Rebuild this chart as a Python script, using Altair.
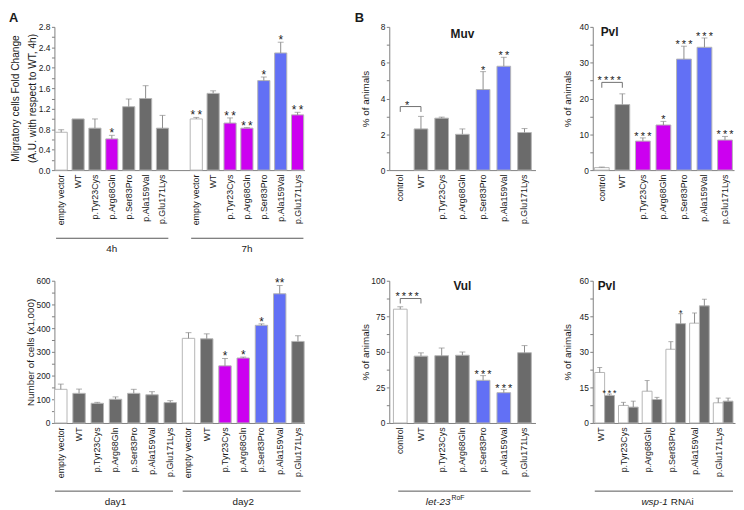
import altair as alt
import pandas as pd

FONT = "Liberation Sans"
INK = "#1a1a1a"
GRAY = "#6b6b6b"
MAGENTA = "#cc00f0"
BLUE = "#6270f5"
WHITE = "#ffffff"
EDGE = "#b5b5b5"
ERRC = "#8c8c8c"
AXISC = "#7f7f7f"
BRC = "#707070"
THIN = "\u2009"

# ---------------- data ----------------
variants = ["empty vector", "WT", "p.Tyr23Cys", "p.Arg68Gln", "p.Ser83Pro", "p.Ala159Val", "p.Glu171Lys"]
worm_variants = ["control", "WT", "p.Tyr23Cys", "p.Arg68Gln", "p.Ser83Pro", "p.Ala159Val", "p.Glu171Lys"]
rnai_groups = ["WT", "p.Tyr23Cys", "p.Arg68Gln", "p.Ser83Pro", "p.Ala159Val", "p.Glu171Lys"]

# A, top: migratory cells fold change
mig_groups = ["4h", "7h"]
mig_4h = [0.74, 1.00, 0.82, 0.61, 1.24, 1.40, 0.82]
mig_4h_err = [0.05, 0.00, 0.18, 0.07, 0.15, 0.25, 0.25]
mig_4h_color = ["w", "g", "g", "m", "g", "g", "g"]
mig_4h_sig = ["", "", "", "*", "", "", ""]
mig_7h = [1.00, 1.50, 0.92, 0.82, 1.75, 2.29, 1.08]
mig_7h_err = [0.03, 0.05, 0.10, 0.01, 0.07, 0.21, 0.05]
mig_7h_color = ["w", "g", "m", "m", "b", "b", "m"]
mig_7h_sig = ["**", "", "**", "**", "*", "*", "**"]
mig_ticks = [0.0, 0.2, 0.4, 0.6, 0.8, 1.0, 1.2, 1.4, 1.6, 1.8, 2.0, 2.2, 2.4, 2.6, 2.8]

# A, bottom: number of cells
cell_groups = ["day1", "day2"]
cells_day1 = [142, 125, 83, 100, 125, 119, 86]
cells_day1_err = [22, 18, 4, 10, 17, 13, 8]
cells_day1_color = ["w", "g", "g", "g", "g", "g", "g"]
cells_day1_sig = ["", "", "", "", "", "", ""]
cells_day2 = [357, 355, 241, 274, 412, 545, 344]
cells_day2_err = [24, 21, 31, 4, 6, 35, 24]
cells_day2_color = ["w", "g", "m", "m", "b", "b", "g"]
cells_day2_sig = ["", "", "*", "*", "*", "**", ""]
cells_ticks = [0, 50, 100, 150, 200, 250, 300, 350, 400, 450, 500, 550, 600]

# B: Muv
muv = [0.0, 2.3, 2.9, 2.0, 4.5, 5.8, 2.1]
muv_err = [0.0, 0.7, 0.06, 0.3, 1.0, 0.5, 0.22]
muv_color = ["w", "g", "g", "g", "b", "b", "g"]
muv_sig = ["", "", "", "", "*", "**", ""]
muv_bracket = [3.55, 3.25]
muv_bracket_sig = "*"
muv_ticks = [0, 1, 2, 3, 4, 5, 6, 7, 8]

# B: Pvl (top)
pvl = [0.7, 18.3, 8.1, 12.6, 31.0, 34.3, 8.4]
pvl_err = [0.15, 3.0, 0.9, 1.0, 3.6, 2.6, 1.0]
pvl_color = ["w", "g", "m", "m", "b", "b", "m"]
pvl_sig = ["", "", "***", "*", "***", "***", "***"]
pvl_bracket = [24.5, 23.0]
pvl_bracket_sig = "****"
pvl_ticks = [0, 5, 10, 15, 20, 25, 30, 35, 40]

# B: Vul
vul = [80.0, 47.0, 47.3, 47.6, 30.0, 21.3, 49.4]
vul_err = [1.7, 2.3, 5.4, 2.3, 3.3, 2.2, 5.0]
vul_color = ["w", "g", "g", "g", "b", "b", "g"]
vul_sig = ["", "", "", "", "***", "***", ""]
vul_bracket = [87.5, 84.0]
vul_bracket_sig = "****"
vul_ticks = [0, 12.5, 25, 37.5, 50, 62.5, 75, 87.5, 100]

# B: Pvl (wsp-1 RNAi)
rnai_series = ["ctrl", "rnai"]
pvl2_ctrl = [21.3, 7.4, 13.4, 31.1, 42.1, 8.5]
pvl2_ctrl_err = [2.1, 1.3, 4.5, 3.2, 4.3, 2.0]
pvl2_ctrl_sig = ["", "", "", "", "", ""]
pvl2_rnai = [11.6, 6.7, 9.9, 41.9, 49.4, 9.2]
pvl2_rnai_err = [0.6, 2.5, 0.9, 4.2, 2.8, 1.3]
pvl2_rnai_sig = ["***", "", "", "*", "", ""]
pvl2_ticks = [0, 7.5, 15, 22.5, 30, 37.5, 45, 52.5, 60]

panel_letters = ["A", "B"]
panel_titles = ["Muv", "Pvl", "Vul", "Pvl"]
mig_title_lines = ["Migratory cells Fold Change", "(A.U. with respect to WT, 4h)"]
y_titles = ["Number of cells (x1,000)", "% of animals"]

COLOR_SCALE = alt.Scale(domain=["w", "g", "m", "b"], range=[WHITE, GRAY, MAGENTA, BLUE])


def spaced(s):
    return THIN.join(list(s)) if s else s


def frame(keys, vals, errs, cols, sigs):
    return pd.DataFrame({
        "key": keys, "value": vals, "err": errs,
        "top": [v + e for v, e in zip(vals, errs)],
        "col": cols, "sig": [spaced(s) for s in sigs],
    })


def y_axis(title, ticks, major, fmt, title_x=-19):
    kw = dict(title=title, values=ticks, format=fmt,
              labelExpr=f"abs(datum.value / {major} - round(datum.value / {major})) < 0.001 ? datum.label : ''",
              tickSize=3, tickColor=AXISC, domainColor=AXISC, labelFontSize=8.5, labelPadding=1.5,
              labelColor=INK, grid=False)
    if title is not None:
        kw.update(titleColor=INK, titleFontSize=10, titleFontWeight="normal", titleX=title_x)
    return alt.Axis(**kw)


def x_axis(expr=None, offset=0):
    kw = dict(title=None, labelAngle=270, labelFontSize=9, labelColor=INK, labelPadding=4,
              ticks=False, domainColor=AXISC, labelOverlap=False)
    if expr:
        kw["labelExpr"] = expr
    if offset:
        kw["labelOffset"] = offset
    return alt.Axis(**kw)


def bar_layers(df, xs, ys, xa, ya, star_size=11):
    bars = alt.Chart(df[df.value > 0]).mark_bar(stroke=EDGE, strokeWidth=1).encode(
        x=alt.X("key:N", scale=xs, axis=xa),
        y=alt.Y("value:Q", scale=ys, axis=ya),
        color=alt.Color("col:N", scale=COLOR_SCALE, legend=None))
    e = df[df.err > 0]
    err = alt.Chart(e).mark_rule(color=ERRC, strokeWidth=1).encode(
        x=alt.X("key:N", scale=xs, axis=xa),
        y=alt.Y("value:Q", scale=ys, axis=ya), y2="top:Q")
    cap = alt.Chart(e).mark_tick(color=ERRC, thickness=1, size=6).encode(
        x=alt.X("key:N", scale=xs, axis=xa),
        y=alt.Y("top:Q", scale=ys, axis=ya))
    s = df[df.sig != ""]
    stars = alt.Chart(s).mark_text(fontSize=star_size, color=INK, baseline="alphabetic", dy=2).encode(
        x=alt.X("key:N", scale=xs, axis=xa),
        y=alt.Y("top:Q", scale=ys, axis=ya), text="sig:N")
    return [bars, err, cap, stars]


def bracket_layers(a, b, level, low, sig, xs, ys, xa, ya, size=11):
    d = pd.DataFrame({"a": [a], "b": [b], "level": [level], "low": [low], "sig": [spaced(sig)]})
    ends = pd.DataFrame({"key": [a, b], "level": [level, level], "low": [low, low]})
    h = alt.Chart(d).mark_rule(color=BRC, strokeWidth=1).encode(
        x=alt.X("a:N", scale=xs, axis=xa), x2="b:N",
        y=alt.Y("level:Q", scale=ys, axis=ya))
    v = alt.Chart(ends).mark_rule(color=BRC, strokeWidth=1).encode(
        x=alt.X("key:N", scale=xs, axis=xa),
        y=alt.Y("level:Q", scale=ys, axis=ya), y2="low:Q")
    t = alt.Chart(d).mark_text(fontSize=size, color=INK, baseline="alphabetic", dy=2).encode(
        x=alt.X("a:N", scale=xs, axis=xa, bandPosition=1),
        y=alt.Y("level:Q", scale=ys, axis=ya), text="sig:N")
    return [h, v, t]


def group_layers(gdf, xs, xa, height, bp_start, bp_end):
    line = alt.Chart(gdf).mark_rule(color="#555555", strokeWidth=1).encode(
        x=alt.X("start:N", scale=xs, axis=xa, bandPosition=bp_start),
        x2=alt.X2("end:N", bandPosition=bp_end),
        y=alt.value(height + 69))
    lab = alt.Chart(gdf).mark_text(fontSize=10, color=INK, baseline="middle").encode(
        x=alt.X("mid:N", scale=xs, axis=xa), y=alt.value(height + 80), text="label:N")
    return [line, lab]


def text_layer(text, x, y, size=12, weight="bold", align="left", baseline="top", style="normal", angle=0):
    return alt.Chart(pd.DataFrame({"t": [text]})).mark_text(
        fontSize=size, fontWeight=weight, align=align, baseline=baseline, fontStyle=style, color=INK,
        angle=angle,
    ).encode(text="t:N", x=alt.value(x), y=alt.value(y))


H1, H2 = 145, 144
KEY_EXPR = "split(datum.label, '|')[1]"

# ---------------- A top ----------------
a1_keys4 = [f"4h|{v}" for v in variants]
a1_keys7 = [f"7h|{v}" for v in variants]
a1_domain = a1_keys4 + ["gap|"] + a1_keys7
a1_df = pd.concat([frame(a1_keys4, mig_4h, mig_4h_err, mig_4h_color, mig_4h_sig),
                   frame(a1_keys7, mig_7h, mig_7h_err, mig_7h_color, mig_7h_sig)])
a1_xs = alt.Scale(domain=a1_domain, paddingInner=0.28, paddingOuter=0.04)
a1_ys = alt.Scale(domain=[0, 2.8], nice=False)
a1_xa = x_axis(KEY_EXPR)
a1_ya = y_axis(None, mig_ticks, 0.4, ".1f")
a1_groups = pd.DataFrame({"start": [a1_keys4[0], a1_keys7[0]], "end": [a1_keys4[-1], a1_keys7[-1]],
                          "mid": [a1_keys4[3], a1_keys7[3]], "label": mig_groups})
a1 = alt.layer(
    *bar_layers(a1_df, a1_xs, a1_ys, a1_xa, a1_ya, star_size=12),
    *group_layers(a1_groups, a1_xs, a1_xa, H1, 0.08, 0.98),
    text_layer(mig_title_lines[0], -39, H1 / 2, size=10.3, weight="normal", align="center",
               baseline="middle", angle=270),
    text_layer(mig_title_lines[1], -22, H1 / 2, size=10.3, weight="normal", align="center",
               baseline="middle", angle=270),
    text_layer(panel_letters[0], -46, -15, size=13),
).properties(width=253, height=H1)

# ---------------- A bottom ----------------
a2_keys1 = [f"day1|{v}" for v in variants]
a2_keys2 = [f"day2|{v}" for v in variants]
a2_domain = a2_keys1 + a2_keys2
a2_df = pd.concat([frame(a2_keys1, cells_day1, cells_day1_err, cells_day1_color, cells_day1_sig),
                   frame(a2_keys2, cells_day2, cells_day2_err, cells_day2_color, cells_day2_sig)])
a2_df["sig"] = a2_df["sig"].str.replace(THIN, "")
a2_xs = alt.Scale(domain=a2_domain, paddingInner=0.32, paddingOuter=0.01)
a2_ys = alt.Scale(domain=[0, 600], nice=False)
a2_xa = x_axis(KEY_EXPR)
a2_ya = y_axis(y_titles[0], cells_ticks, 100, "d", -19)
a2_groups = pd.DataFrame({"start": [a2_keys1[0], a2_keys2[0]], "end": [a2_keys1[-1], a2_keys2[-1]],
                          "mid": [a2_keys1[3], a2_keys2[3]], "label": cell_groups})
a2 = alt.layer(
    *bar_layers(a2_df, a2_xs, a2_ys, a2_xa, a2_ya, star_size=12),
    *group_layers(a2_groups, a2_xs, a2_xa, H2, 0.03, 0.72),
).properties(width=253, height=H2)

# ---------------- B: Muv ----------------
B_PI, B_PO = 0.34, 0.2
muv_df = frame(worm_variants, muv, muv_err, muv_color, muv_sig)
muv_xs = alt.Scale(domain=worm_variants, paddingInner=B_PI, paddingOuter=B_PO)
muv_ys = alt.Scale(domain=[0, 8], nice=False)
muv_xa = x_axis()
muv_ya = y_axis(y_titles[1], muv_ticks, 2, "d", -19)
muv_chart = alt.layer(
    *bar_layers(muv_df, muv_xs, muv_ys, muv_xa, muv_ya),
    *bracket_layers("control", "WT", muv_bracket[0], muv_bracket[1], muv_bracket_sig,
                    muv_xs, muv_ys, muv_xa, muv_ya),
    text_layer(panel_titles[0], 74, 7, size=12, align="center", baseline="middle"),
    text_layer(panel_letters[1], -35, -15, size=13),
).properties(width=148, height=H1)

# ---------------- B: Pvl top ----------------
pvl_df = frame(worm_variants, pvl, pvl_err, pvl_color, pvl_sig)
pvl_xs = alt.Scale(domain=worm_variants, paddingInner=0.28, paddingOuter=0.08)
pvl_ys = alt.Scale(domain=[0, 40], nice=False)
pvl_xa = x_axis()
pvl_ya = y_axis(y_titles[1], pvl_ticks, 10, "d", -21)
pvl_chart = alt.layer(
    *bar_layers(pvl_df, pvl_xs, pvl_ys, pvl_xa, pvl_ya),
    *bracket_layers("control", "WT", pvl_bracket[0], pvl_bracket[1], pvl_bracket_sig,
                    pvl_xs, pvl_ys, pvl_xa, pvl_ya),
    text_layer(panel_titles[1], 8, 5, size=12, baseline="middle"),
).properties(width=143, height=H1)

# ---------------- B: Vul ----------------
vul_df = frame(worm_variants, vul, vul_err, vul_color, vul_sig)
vul_xs = alt.Scale(domain=worm_variants, paddingInner=B_PI, paddingOuter=B_PO)
vul_ys = alt.Scale(domain=[0, 100], nice=False)
vul_xa = x_axis()
vul_ya = y_axis(y_titles[1], vul_ticks, 25, "d", -19)
vul_note = pd.DataFrame({"start": [worm_variants[0]], "end": [worm_variants[-1]],
                         "mid": [worm_variants[2]], "gene": ["let-23"], "allele": ["RoF"]})
vul_line = alt.Chart(vul_note).mark_rule(color="#555555", strokeWidth=1).encode(
    x=alt.X("start:N", scale=vul_xs, axis=vul_xa, bandPosition=0.35),
    x2=alt.X2("end:N", bandPosition=0.95), y=alt.value(H2 + 69))
vul_gene = alt.Chart(vul_note).mark_text(fontSize=10, fontStyle="italic", color=INK, align="right",
                                         baseline="middle", dx=2).encode(
    x=alt.X("mid:N", scale=vul_xs, axis=vul_xa, bandPosition=1), y=alt.value(H2 + 80), text="gene:N")
vul_allele = alt.Chart(vul_note).mark_text(fontSize=7, color=INK, align="left",
                                           baseline="middle", dx=3).encode(
    x=alt.X("mid:N", scale=vul_xs, axis=vul_xa, bandPosition=1), y=alt.value(H2 + 76), text="allele:N")
vul_chart = alt.layer(
    *bar_layers(vul_df, vul_xs, vul_ys, vul_xa, vul_ya),
    *bracket_layers("control", "WT", vul_bracket[0], vul_bracket[1], vul_bracket_sig,
                    vul_xs, vul_ys, vul_xa, vul_ya),
    vul_line, vul_gene, vul_allele,
    text_layer(panel_titles[2], 74, 5, size=12, align="center", baseline="middle"),
).properties(width=148, height=H2)

# ---------------- B: Pvl wsp-1 RNAi ----------------
rows = []
for g, v, e, s in zip(rnai_groups, pvl2_ctrl, pvl2_ctrl_err, pvl2_ctrl_sig):
    rows.append({"group": g, "series": rnai_series[0], "value": v, "err": e, "top": v + e, "col": "w", "sig": spaced(s)})
for g, v, e, s in zip(rnai_groups, pvl2_rnai, pvl2_rnai_err, pvl2_rnai_sig):
    rows.append({"group": g, "series": rnai_series[1], "value": v, "err": e, "top": v + e, "col": "g", "sig": spaced(s)})
p2_df = pd.DataFrame(rows)
p2_xs = alt.Scale(domain=rnai_groups, paddingInner=0.17, paddingOuter=0.085)
p2_os = alt.Scale(domain=rnai_series, paddingInner=0, paddingOuter=0)
p2_ys = alt.Scale(domain=[0, 60], nice=False)
p2_xa = x_axis(offset=-4)
p2_ya = y_axis(y_titles[1], pvl2_ticks, 15, "d", -21)
XO = alt.XOffset("series:N", scale=p2_os)
p2_bars = alt.Chart(p2_df).mark_bar(stroke=EDGE, strokeWidth=1).encode(
    x=alt.X("group:N", scale=p2_xs, axis=p2_xa), xOffset=XO,
    y=alt.Y("value:Q", scale=p2_ys, axis=p2_ya),
    color=alt.Color("col:N", scale=COLOR_SCALE, legend=None))
p2_err = alt.Chart(p2_df).mark_rule(color=ERRC, strokeWidth=1).encode(
    x=alt.X("group:N", scale=p2_xs, axis=p2_xa), xOffset=XO,
    y=alt.Y("value:Q", scale=p2_ys, axis=p2_ya), y2="top:Q")
p2_cap = alt.Chart(p2_df).mark_tick(color=ERRC, thickness=1, size=5).encode(
    x=alt.X("group:N", scale=p2_xs, axis=p2_xa), xOffset=XO,
    y=alt.Y("top:Q", scale=p2_ys, axis=p2_ya))
p2_stars = alt.Chart(p2_df[p2_df.sig != ""]).mark_text(fontSize=9, color=INK, baseline="alphabetic", dy=2).encode(
    x=alt.X("group:N", scale=p2_xs, axis=p2_xa), xOffset=XO,
    y=alt.Y("top:Q", scale=p2_ys, axis=p2_ya), text="sig:N")
p2_note = pd.DataFrame({"start": [rnai_groups[0]], "end": [rnai_groups[-1]],
                        "mid": [rnai_groups[2]], "gene": ["wsp-1"], "method": ["RNAi"]})
p2_line = alt.Chart(p2_note).mark_rule(color="#555555", strokeWidth=1).encode(
    x=alt.X("start:N", scale=p2_xs, axis=p2_xa, bandPosition=0.0),
    x2=alt.X2("end:N", bandPosition=1.0), y=alt.value(H2 + 69))
p2_gene = alt.Chart(p2_note).mark_text(fontSize=10, fontStyle="italic", color=INK, align="right",
                                       baseline="middle", dx=6).encode(
    x=alt.X("mid:N", scale=p2_xs, axis=p2_xa, bandPosition=1), y=alt.value(H2 + 80), text="gene:N")
p2_method = alt.Chart(p2_note).mark_text(fontSize=10, color=INK, align="left",
                                         baseline="middle", dx=9).encode(
    x=alt.X("mid:N", scale=p2_xs, axis=p2_xa, bandPosition=1), y=alt.value(H2 + 80), text="method:N")
pvl2_chart = alt.layer(
    p2_bars, p2_err, p2_cap, p2_stars, p2_line, p2_gene, p2_method,
    text_layer(panel_titles[3], 5, 5, size=12, baseline="middle"),
).properties(width=144, height=H2)


def spacer(w, h):
    return alt.Chart(pd.DataFrame({"t": [""]})).mark_text().encode(text="t:N").properties(width=w, height=h)


chart = alt.concat(
    a1, spacer(30, H1), muv_chart, spacer(2, H1), pvl_chart,
    a2, spacer(30, H2), vul_chart, spacer(2, H2), pvl2_chart,
    columns=5, spacing={"row": 112, "column": 28}, bounds="flush", align="each",
).properties(padding=0).configure(font=FONT).configure_view(stroke="transparent")

chart.save("out.html", embed_options={"renderer": "svg", "actions": False})
